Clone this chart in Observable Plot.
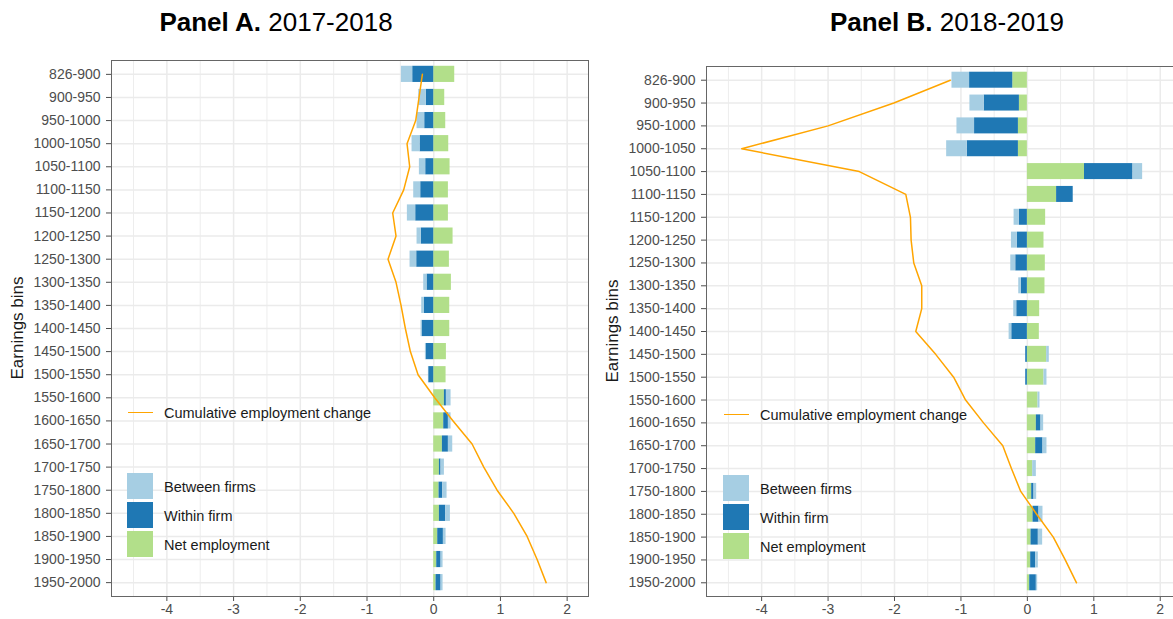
<!DOCTYPE html>
<html>
<head>
<meta charset="utf-8">
<script src="https://cdn.jsdelivr.net/npm/d3@7"></script>
<script src="https://cdn.jsdelivr.net/npm/@observablehq/plot@0.6"></script>
<style>
  html, body { margin: 0; padding: 0; background: #fff; }
  #wrap { position: relative; width: 1173px; height: 619px; overflow: hidden; background: #fff;
          font-family: "Liberation Sans", Arial, sans-serif; }
  .panel { position: absolute; top: 0; }
  .title { position: absolute; top: 7px; font-size: 26px; color: #000; white-space: nowrap; transform: translateX(-50%); }
  .ylab { position: absolute; font-size: 17px; color: #1a1a1a; white-space: nowrap;
          transform: translate(-50%, -50%) rotate(-90deg); }
  .leg { position: absolute; font-size: 14.5px; color: #1a1a1a; white-space: nowrap; transform: translateY(-50%); }
  .key { position: absolute; width: 26px; height: 26px; }
  .lkey { position: absolute; width: 25px; height: 0; border-top: 1.5px solid #FFA500; }
</style>
</head>
<body>
<div id="wrap"></div>
<script>
const bins = ["826-900","900-950","950-1000","1000-1050","1050-1100","1100-1150","1150-1200","1200-1250","1250-1300","1300-1350","1350-1400","1400-1450","1450-1500","1500-1550","1550-1600","1600-1650","1650-1700","1700-1750","1750-1800","1800-1850","1850-1900","1900-1950","1950-2000"];

const seriesNames = ["Between firms", "Within firm", "Net employment"];
const seriesColors = ["#A6CEE3", "#1F78B4", "#B2DF8A"];
const lineName = "Cumulative employment change";
const lineColor = "#FFA500";
const xTicks = [-4, -3, -2, -1, 0, 1, 2];

// Panel A: 2017-2018
const betweenA = [-0.17,-0.115,-0.115,-0.12,-0.095,-0.105,-0.125,-0.065,-0.10,-0.05,-0.04,-0.015,-0.01,-0.005,0.07,0.04,0.065,0.05,0.065,0.07,0.04,0.03,0.03];
const withinA  = [-0.315,-0.11,-0.135,-0.205,-0.12,-0.195,-0.27,-0.185,-0.255,-0.10,-0.14,-0.175,-0.115,-0.075,0.03,0.07,0.09,0.025,0.055,0.095,0.085,0.065,0.075];
const netA     = [0.315,0.165,0.18,0.225,0.245,0.22,0.22,0.29,0.235,0.265,0.24,0.24,0.19,0.185,0.16,0.15,0.13,0.085,0.08,0.085,0.06,0.045,0.035];
const cumA     = [-0.17,-0.22,-0.27,-0.40,-0.36,-0.45,-0.615,-0.565,-0.685,-0.565,-0.49,-0.425,-0.35,-0.235,0.015,0.29,0.575,0.75,0.95,1.2,1.4,1.55,1.685];

// Panel B: 2018-2019
const betweenB = [-0.265,-0.215,-0.265,-0.31,0.145,0,-0.08,-0.09,-0.075,-0.04,-0.045,-0.04,0.04,0.045,0.03,0.04,0.06,0.055,0.04,0.06,0.065,0.04,0.02];
const withinB  = [-0.65,-0.53,-0.66,-0.77,0.73,0.25,-0.12,-0.15,-0.175,-0.09,-0.16,-0.235,-0.025,-0.025,0,0.07,0.11,0,0.035,0.09,0.11,0.075,0.10];
const netB     = [-0.22,-0.12,-0.135,-0.135,0.86,0.44,0.275,0.25,0.27,0.265,0.185,0.18,0.29,0.25,0.16,0.135,0.125,0.08,0.065,0.085,0.055,0.05,0.035];
const cumB     = [-1.16,-2.01,-3.0,-4.3,-2.53,-1.83,-1.76,-1.75,-1.71,-1.59,-1.59,-1.68,-1.38,-1.11,-0.93,-0.66,-0.37,-0.24,-0.1,0.14,0.39,0.57,0.74];

const wrap = document.getElementById("wrap");

function makePanel(opts) {
  const {between, within, net, cum, left, marginTop, marginBottom, marginRight, title, period, ylabX, ylabY, legX, lineY, boxY} = opts;
  const rows = [];
  bins.forEach((b, i) => {
    rows.push({bin: b, type: "Net employment", v: net[i]});
    rows.push({bin: b, type: "Within firm", v: within[i]});
    rows.push({bin: b, type: "Between firms", v: between[i]});
  });
  const line = bins.map((b, i) => ({bin: b, v: cum[i]}));
  const minor = [-4.5, -3.5, -2.5, -1.5, -0.5, 0.5, 1.5];

  const chart = Plot.plot({
    width: 590,
    height: 619,
    marginLeft: 111,
    marginRight,
    marginTop,
    marginBottom,
    style: {fontFamily: "'Liberation Sans', Arial, sans-serif", fontSize: "14px", color: "#4d4d4d", background: "transparent"},
    x: {domain: [-4.83, 2.32], ticks: xTicks, tickFormat: d => String(d), tickSize: 5, tickPadding: 3, label: null},
    y: {domain: bins, paddingInner: 0.3, paddingOuter: 0.25, round: false, tickSize: 5, tickPadding: 6, label: null},
    color: {domain: seriesNames, range: seriesColors},
    marks: [
      Plot.ruleX(minor, {stroke: "#ebebeb", strokeWidth: 0.9}),
      Plot.ruleX(xTicks, {stroke: "#ebebeb", strokeWidth: 1.5}),
      Plot.ruleY(bins, {stroke: "#ebebeb", strokeWidth: 1.5}),
      Plot.barX(rows, Plot.stackX({x: "v", y: "bin", fill: "type"})),
      Plot.line(line, {x: "v", y: "bin", stroke: lineColor, strokeWidth: 1.5}),
      Plot.frame({stroke: "#666", strokeWidth: 1})
    ]
  });
  chart.classList.add("panel");
  chart.style.left = left + "px";
  wrap.appendChild(chart);

  const t = document.createElement("div");
  t.className = "title";
  t.style.left = opts.titleX + "px";
  t.innerHTML = "<b>" + title + "</b> " + period;
  wrap.appendChild(t);

  const yl = document.createElement("div");
  yl.className = "ylab";
  yl.style.left = ylabX + "px";
  yl.style.top = ylabY + "px";
  yl.textContent = "Earnings bins";
  wrap.appendChild(yl);

  const lk = document.createElement("div");
  lk.className = "lkey";
  lk.style.left = (legX + 1) + "px";
  lk.style.top = (lineY - 1) + "px";
  wrap.appendChild(lk);
  const lt = document.createElement("div");
  lt.className = "leg";
  lt.style.left = (legX + 37) + "px";
  lt.style.top = lineY + "px";
  lt.textContent = lineName;
  wrap.appendChild(lt);

  seriesNames.forEach((name, i) => {
    const y0 = boxY + i * 29;
    const k = document.createElement("div");
    k.className = "key";
    k.style.left = legX + "px";
    k.style.top = y0 + "px";
    k.style.background = seriesColors[i];
    wrap.appendChild(k);
    const tx = document.createElement("div");
    tx.className = "leg";
    tx.style.left = (legX + 37) + "px";
    tx.style.top = (y0 + 14) + "px";
    tx.textContent = name;
    wrap.appendChild(tx);
  });
}

makePanel({between: betweenA, within: withinA, net: netA, cum: cumA,
  left: 0, marginTop: 60, marginBottom: 23, marginRight: 2,
  title: "Panel A.", period: "2017-2018", titleX: 276,
  ylabX: 18, ylabY: 328, legX: 127, lineY: 413, boxY: 473});

makePanel({between: betweenB, within: withinB, net: netB, cum: cumB,
  left: 595, marginTop: 66, marginBottom: 23, marginRight: 4,
  title: "Panel B.", period: "2018-2019", titleX: 947,
  ylabX: 613, ylabY: 331, legX: 723, lineY: 415, boxY: 475});
</script>
</body>
</html>
